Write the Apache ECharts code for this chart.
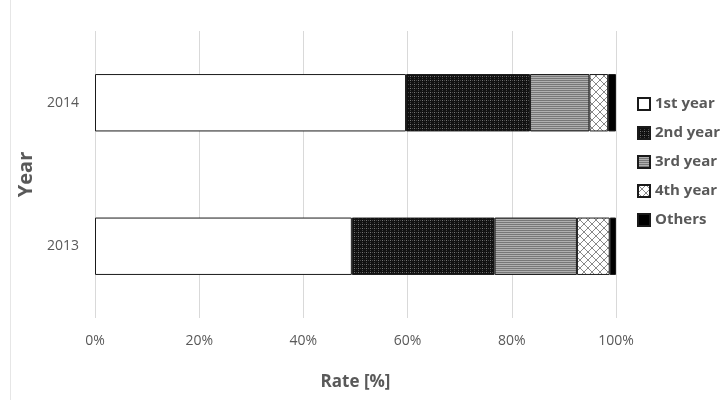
<!DOCTYPE html>
<html>
<head>
<meta charset="utf-8">
<script src="https://cdn.jsdelivr.net/npm/echarts@6/dist/echarts.min.js"></script>
<style>
html, body { margin: 0; padding: 0; background: #fff; }
#main { width: 722px; height: 400px; }
</style>
</head>
<body>
<div id="main"></div>
<script>
var years	= ['2013', '2014'];
var names	= ['1st year', '2nd year', '3rd year', '4th year', 'Others'];
var first_year	= [49.3, 59.7];
var second_year	= [27.4, 23.8];
var third_year	= [15.8, 11.4];
var fourth_year	= [6.3, 3.6];
var others	= [1.2, 1.5];
var x_ticks	= [0, 20, 40, 60, 80, 100];

// small canvas tiles for the hatch fills
function make_tile(w, h, draw) {
    var c = document.createElement('canvas');
    c.width = w;
    c.height = h;
    draw(c.getContext('2d'));
    return { image: c, repeat: 'repeat' };
}
var dots_fill = make_tile(4, 4, function(ctx) {
    ctx.fillStyle = '#111';
    ctx.fillRect(0, 0, 4, 4);
    ctx.fillStyle = '#444';
    ctx.fillRect(0, 0, 1, 1);
    ctx.fillRect(2, 2, 1, 1);
    ctx.fillStyle = '#777';
    ctx.fillRect(2, 0, 1, 1);
});
var stripe_fill = make_tile(2, 2, function(ctx) {
    ctx.fillStyle = '#777';
    ctx.fillRect(0, 0, 2, 1);
    ctx.fillStyle = '#b0b0b0';
    ctx.fillRect(0, 1, 2, 1);
});
var cross_fill = make_tile(8, 8, function(ctx) {
    ctx.fillStyle = '#fff';
    ctx.fillRect(0, 0, 8, 8);
    ctx.strokeStyle = '#888';
    ctx.lineWidth = 1;
    ctx.beginPath();
    ctx.moveTo(0, 0); ctx.lineTo(8, 8);
    ctx.moveTo(8, 0); ctx.lineTo(0, 8);
    ctx.stroke();
});

var fills	= ['#ffffff', dots_fill, stripe_fill, cross_fill, '#000000'];
var values	= [first_year, second_year, third_year, fourth_year, others];

var series = [];
for (var i = 0; i < names.length; i++) {
    series.push({
	name: names[i],
	type: 'bar',
	stack: 'total',
	barWidth: '40%',
	itemStyle: {
	    color: fills[i],
	    borderColor: '#1a1a1a',
	    borderWidth: 1
	},
	data: values[i]
    });
}

var option = {
    animation: false,
    textStyle: { fontFamily: 'Open Sans' },
    graphic: [{
	type: 'line',
	shape: { x1: 10.5, y1: 0, x2: 10.5, y2: 400 },
	style: { stroke: '#e6e6e6', lineWidth: 1 }
    }],
    grid: { left: 95, right: 106, top: 31, bottom: 82 },
    legend: {
	orient: 'vertical',
	left: 632,
	top: 89,
	icon: 'rect',
	itemWidth: 12,
	itemHeight: 12,
	itemGap: 9,
	data: names,
	textStyle: { color: '#595959', fontSize: 15, fontWeight: 'bold', lineHeight: 20 }
    },
    xAxis: {
	type: 'value',
	min: 0,
	max: 100,
	interval: 20,
	name: 'Rate [%]',
	nameLocation: 'middle',
	nameGap: 56,
	nameTextStyle: { color: '#595959', fontSize: 17, fontWeight: 'bold' },
	axisLine: { show: false },
	axisTick: { show: false },
	axisLabel: {
	    color: '#595959',
	    fontSize: 14,
	    margin: 16,
	    formatter: function(v) { return x_ticks.indexOf(v) >= 0 ? v + '%' : ''; }
	},
	splitLine: { lineStyle: { color: '#d9d9d9' } }
    },
    yAxis: {
	type: 'category',
	data: years,
	name: 'Year',
	nameLocation: 'middle',
	nameGap: 56,
	nameRotate: 90,
	nameTextStyle: { color: '#595959', fontSize: 20, fontWeight: 'bold' },
	axisLine: { show: false },
	axisTick: { show: false },
	axisLabel: { color: '#595959', fontSize: 14, margin: 16 }
    },
    series: series
};

var chart = echarts.init(document.getElementById('main'));
chart.setOption(option);
</script>
</body>
</html>
